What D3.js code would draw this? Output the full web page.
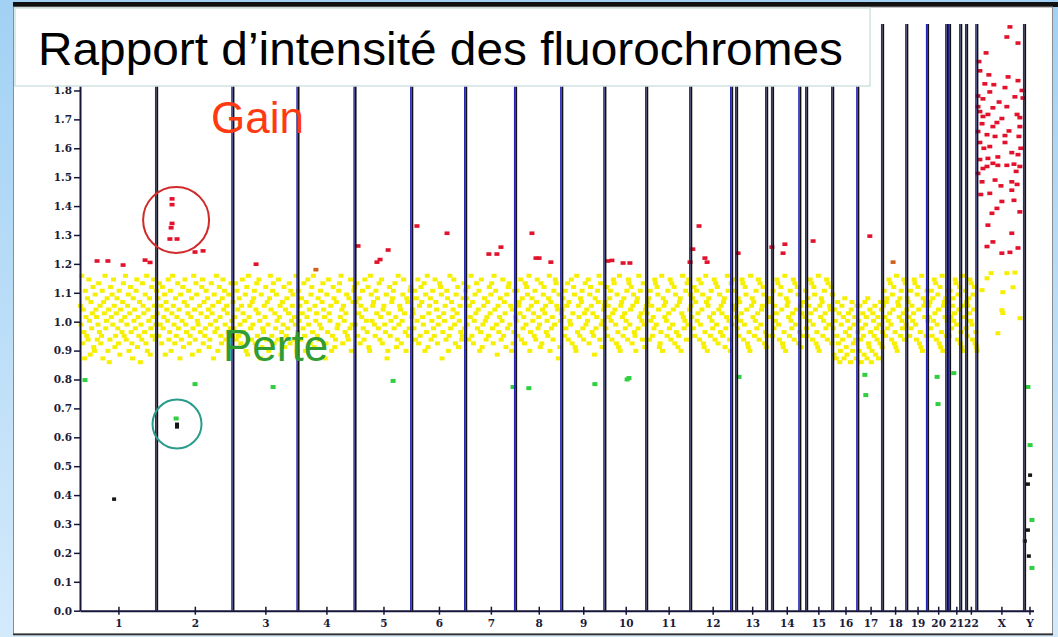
<!DOCTYPE html>
<html>
<head>
<meta charset="utf-8">
<script src="https://cdn.jsdelivr.net/npm/d3@7"></script>
<style>
  html, body { margin: 0; padding: 0; background: #fff; }
  svg { display: block; }
  .tick text { font-family: "DejaVu Serif", serif; font-weight: bold; font-size: 10.5px; fill: #1a1a3a; }
</style>
</head>
<body>
<svg id="chart" width="1058" height="637"></svg>
<script>
// ── Data ──────────────────────────────────────────────────────
const chromLabels = ["1","2","3","4","5","6","7","8","9","10","11","12",
                     "13","14","15","16","17","18","19","20","21","22","X","Y"];
// chromosome lengths as drawn (Mb)
const chromSizes  = [248,245,210,184,184,174,161,148,139,135,142,142,
                     113,110,94,81,81,77,68,65,52,42,155,26];
// vertical separator lines (genome position, Mb)
const chromLines  = [248,494,704,888,1071,1245,1406,1555,1694,1829,1971,
                     2103,2119,2216,2235,2323,2345,2429,2510,2590,2668,
                     2735,2797,2806,2842,2861,2894,3048];
const yTicks = [0,0.1,0.2,0.3,0.4,0.5,0.6,0.7,0.8,0.9,1.0,1.1,1.2,1.3,1.4,1.5,1.6,1.7,1.8];

// normal clones (yellow): one letter per clone, in genome order.
// letter a = ratio 0.86, each next letter +0.013 (z = 1.185)
const levelKey = "abcdefghijklmnopqrstuvwxyz";
const yellowByChrom = [
  "pkxfoibtmhrgwlcqjnuedsomgkvipfhtbqnxjlrdoagumskwpehnrjftcoliqvhmxgkpsdnuifbrlojtwemhqakgvpnisfxdolrcjuhmwpgkt",
  "nrhvkpfujmscqolwgitdnxpkfrhmvjobsglueqwkipntfhmrcjxogvslkdpinuwfqhjtmroegkvnpbsilxjdqumhfrwotkgpnisejvlh",
  "qjmvgtohrkfpwnilsducxmpjgqkrtfovhnwlbsejipmugqkdrxohtvfnjslgwmpciqkueohrjnvftlpsgmkxdi",
  "tlpgrnjvhdqmwkofsuixeplnhrgktjqvombfsiwnlpdhuregqjktvmxofplinshgrjwdkqtu",
  "kqvhnrfpmtjgwoliuedxslpqkhtnrjvgmwfopkisbdnuhlqrtjvmegxkpoflswnidrqhjtum",
  "onjtgrlwfphuqmkvdsixenprgltjhwqofkmvusbinlpgtrdhxjqmowkfsnuelpighrvjt",
  "rkugpmxhqflsnvjotdiwekprlgmqhunsvjfxotkcpimrglwhqnesjuvkpdofitm",
  "lthpqnwgrjmfvkusoxdiprlnhtgqwjmkevfosunpilhrxdqjmgtkwvpobseln",
  "ormhtjpvgqlkwfnusedxipmhrqtjgnvkolwfsupinhcrjmtqxgvkelop",
  "qjuhpmrtlgnwvokfsiexdpqmhrnjltgwvkoufpsihdqrjxmtnlgvkeop",
  "nqrgtlphmjwvkusoefixdrpmqlhtnjwgvkoufsipehqrdnxmjltgvkwos",
  "pmrjuhqtlnwgkvosfeixqdprmhtljnwgvkufosipnhqrejmxtlgdvkpwo",
  "tpmjrhqlnwvgkusofeidxprmqhltjnwgvkopusfiehqrm",
  "mrqhtjplnwvkgsuofeixdrpqmhtljnwgvkousfipenhq",
  "qmtjhrplwnvgkusofiexdpmrqhltnjwgvkpoufs",
  "jcolbhqfnadkpgmbrieclnhjaoqdfkmgbpi",
  "ldpgajnhcqkmbrfeoiadnlhpcjgmbkfqoei",
  "ptmhqrjlwnvkgsoufiexdqpmrhtljnwgvko",
  "rqmhtjplnwvkgsuofiexdrpmqhtl",
  "pmqjthrlwnvgksofueixdpqmrhlt",
  "qhtmjprlnwvkgsoufiexdp",
  "mtjqhprnwlvkgsoufied"
];
// [genome Mb, ratio]
const yellowX = [[2939,1.168],[2990,1.168],[3016,1.17],[2910,1.109],[2977,1.102],[3010,1.119],
                 [2974,1.04],[2977,1.03],[3032,1.012],[2961,0.96],[2926,1.15]];
const gainPts = [[55,1.21],[90,1.21],[139,1.196],[210,1.213],[226,1.205],
  [297,1.425],[297,1.405],[297,1.34],[294,1.325],[290,1.286],[313,1.286],[371,1.241],[397,1.245],
  [568,1.199],[897,1.262],[958,1.206],[968,1.215],[994,1.248],[1087,1.331],[1184,1.306],
  [1319,1.234],[1345,1.234],[1358,1.258],[1458,1.306],[1471,1.22],[1481,1.22],[1519,1.206],
  [1703,1.21],[1716,1.212],[1752,1.203],[1774,1.203],[1968,1.206],[1977,1.251],[1997,1.331],
  [2016,1.22],[2023,1.206],[2123,1.237],[2232,1.258],[2268,1.237],[2274,1.268],[2365,1.279],
  [2548,1.296],
  [3000,2.02],[2990,1.985],[3026,1.964],[2923,1.93],[2903,1.868],[2932,1.854],[2994,1.847],
  [3026,1.834],[2919,1.823],[2984,1.81],[2935,1.795],[2897,1.781],[2913,1.771],[3016,1.778],
  [3042,1.774],[2945,1.74],[2897,1.744],[2903,1.727],[2990,1.744],[2913,1.71],[2929,1.717],
  [3023,1.717],[3032,1.706],[2974,1.703],[2958,1.689],[2945,1.675],[2910,1.685],[3032,1.675],
  [2897,1.658],[2926,1.647],[2952,1.641],[2984,1.644],[3029,1.641],[2903,1.62],[2935,1.606],
  [2984,1.62],[3006,1.585],[3026,1.578],[2903,1.561],[2929,1.565],[2945,1.548],[2926,1.537],
  [2913,1.53],[2961,1.541],[2990,1.541],[3013,1.545],[3032,1.537],[2897,1.513],[2910,1.484],
  [2952,1.49],[3006,1.484],[3023,1.475],[3006,1.455],[2935,1.444],[2974,1.416],[2958,1.392],
  [2942,1.375],[2929,1.334],[3032,1.38],[3006,1.306],[2945,1.276],[2974,1.237],[3026,1.255],
  [3000,1.24],[2926,1.26],[3013,1.42],[2971,1.47],[2916,1.6],[2997,1.66],[2948,1.82],
  [2965,1.76],[3035,1.6],[3020,1.52],[2906,1.44],[2961,1.57],[3039,1.8],[2900,1.9]];
const gainOrange = [[761,1.18],[2623,1.206]];
const lossPts = [[16,0.798],[371,0.784],[623,0.774],[1010,0.795],[1397,0.774],[1448,0.77],
  [1661,0.784],[1765,0.80],[1771,0.805],[2126,0.809],[2532,0.816],[2535,0.746],[2765,0.809],
  [2768,0.715],[2819,0.822],[310,0.665],[3058,0.774],[3065,0.573],[3071,0.314],[3071,0.148]];
const darkPts = [[110,0.386],[313,0.636],[313,0.645],[3065,0.469],[3058,0.438],[3058,0.279],
  [3048,0.241],[3061,0.189]];
// annotation circles: [Mb, ratio, radius px]
const gainCircle = [310, 1.352, 33];
const lossCircle = [313, 0.646, 24.5];

// ── Layout ────────────────────────────────────────────────────
const W = 1058, H = 637;
const svg = d3.select("#chart");

const chromStart = chromSizes.map((s, i) => d3.sum(chromSizes.slice(0, i)));
const genomeLen  = d3.sum(chromSizes);

const x = d3.scaleLinear().domain([0, genomeLen]).range([80, 1033.5]);
const y = d3.scaleLinear().domain([0, 2.03]).range([610.7, 24]);

// ── Page background ──────────────────────────────────────────
const defs = svg.append("defs");
const grad = defs.append("linearGradient").attr("id", "bg")
  .attr("x1", 0).attr("y1", 0).attr("x2", 0).attr("y2", 1);
grad.append("stop").attr("offset", "0%").attr("stop-color", "#a2d1f4");
grad.append("stop").attr("offset", "100%").attr("stop-color", "#d3eafb");

svg.append("rect").attr("width", W).attr("height", H).attr("fill", "url(#bg)");
svg.append("rect").attr("x", 13).attr("y", 2).attr("width", W - 13).attr("height", 5).attr("fill", "#111");
svg.append("rect").attr("x", 13.5).attr("y", 7).attr("width", 1039).attr("height", 627)
  .attr("fill", "#fff").attr("stroke", "#8c8c8c").attr("stroke-width", 1);
svg.append("rect").attr("x", 13).attr("y", 633.5).attr("width", 1040).attr("height", 1.8).attr("fill", "#333");

// ── Points ───────────────────────────────────────────────────
const yellow = [];
yellowByChrom.forEach((s, ci) => {
  const pos = d3.scaleLinear().domain([0, s.length])
    .range([chromStart[ci], chromStart[ci] + chromSizes[ci]]);
  [...s].forEach((c, i) => yellow.push([pos(i + 0.5), 0.86 + 0.013 * levelKey.indexOf(c)]));
});
yellowX.forEach(d => yellow.push(d));

function drawDots(data, color, w, h) {
  svg.append("g").selectAll("rect").data(data).join("rect")
    .attr("x", d => x(d[0]) - w / 2)
    .attr("y", d => y(d[1]) - h / 2)
    .attr("width", w).attr("height", h)
    .attr("fill", color);
}
drawDots(yellow, "#f6ef00", 5, 4);
drawDots(lossPts, "#2fcf40", 5, 4);
drawDots(darkPts, "#151515", 4, 3.5);
drawDots(gainPts, "#e3122c", 5, 3.6);
drawDots(gainOrange, "#d2601a", 5, 3.6);

// ── Chromosome separators ────────────────────────────────────
const sepG = svg.append("g");
sepG.selectAll("line.blue").data(chromLines).join("line").attr("class", "blue")
  .attr("x1", d => x(d) - 1.2).attr("x2", d => x(d) - 1.2)
  .attr("y1", y(0)).attr("y2", y(2.03))
  .attr("stroke", "#2323b8").attr("stroke-width", 1.4);
sepG.selectAll("line.black").data(chromLines).join("line").attr("class", "black")
  .attr("x1", d => x(d) + 0.4).attr("x2", d => x(d) + 0.4)
  .attr("y1", y(0)).attr("y2", y(2.03))
  .attr("stroke", "#111").attr("stroke-width", 1.8);

// ── Axes ─────────────────────────────────────────────────────
const yAxisG = svg.append("g").attr("transform", "translate(80,0)")
  .call(d3.axisLeft(y).tickValues(yTicks).tickFormat(d3.format(".1f")).tickSize(6).tickSizeOuter(0).tickPadding(2));
yAxisG.select(".domain").attr("stroke", "#15153a").attr("stroke-width", 2);
yAxisG.selectAll(".tick line").attr("stroke", "#15153a").attr("stroke-width", 1.5);

const centers = chromSizes.map((s, i) => chromStart[i] + s / 2);
const xAxisG = svg.append("g").attr("transform", `translate(0,${y(0)})`)
  .call(d3.axisBottom(x).tickValues(centers).tickFormat((d, i) => chromLabels[i])
    .tickSize(4).tickSizeOuter(0).tickPadding(5));
xAxisG.select(".domain").attr("stroke", "#15153a").attr("stroke-width", 2);
xAxisG.selectAll(".tick line").attr("y1", -4).attr("y2", 4)
  .attr("stroke", "#15153a").attr("stroke-width", 1.5);

// ── Title box ────────────────────────────────────────────────
svg.append("rect").attr("x", 15).attr("y", 8).attr("width", 855).attr("height", 78)
  .attr("fill", "#fff").attr("stroke", "#cfe2e2").attr("stroke-width", 1.5);
svg.append("text").attr("x", 38).attr("y", 65)
  .attr("font-family", "'Liberation Sans', Arial, sans-serif").attr("font-size", 46)
  .attr("textLength", 805).attr("lengthAdjust", "spacingAndGlyphs")
  .attr("fill", "#000")
  .text("Rapport d’intensité des fluorochromes");

// ── Annotations ──────────────────────────────────────────────
svg.append("text").attr("x", 211).attr("y", 133)
  .attr("font-family", "'Liberation Sans', Arial, sans-serif").attr("font-size", 44)
  .attr("fill", "#ff3a10").text("Gain");
svg.append("text").attr("x", 223).attr("y", 361)
  .attr("font-family", "'Liberation Sans', Arial, sans-serif").attr("font-size", 44)
  .attr("fill", "#2f9d34").text("Perte");

svg.append("circle").attr("cx", x(gainCircle[0])).attr("cy", y(gainCircle[1])).attr("r", gainCircle[2])
  .attr("fill", "none").attr("stroke", "#d02a2a").attr("stroke-width", 2);
svg.append("circle").attr("cx", x(lossCircle[0])).attr("cy", y(lossCircle[1])).attr("r", lossCircle[2])
  .attr("fill", "none").attr("stroke", "#2a9c8c").attr("stroke-width", 2);
</script>
</body>
</html>
